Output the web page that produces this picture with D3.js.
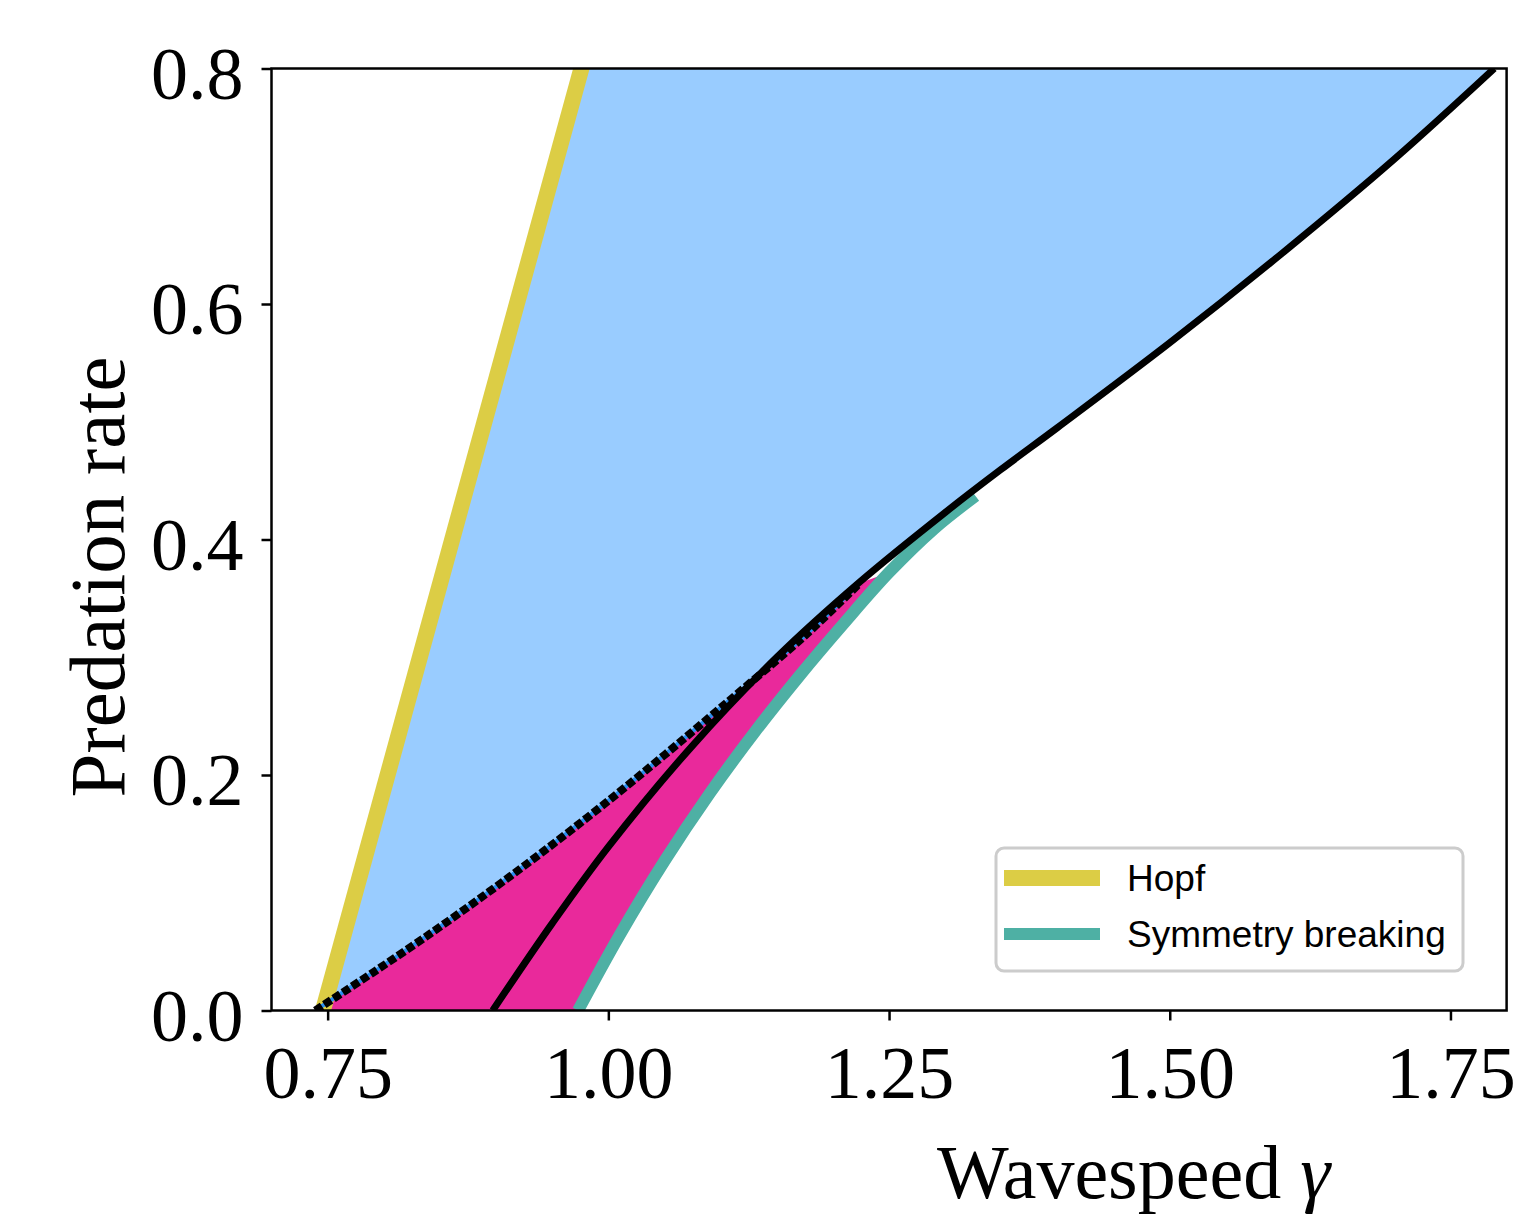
<!DOCTYPE html>
<html>
<head>
<meta charset="utf-8">
<script src="https://cdn.jsdelivr.net/npm/d3@7"></script>
<style>
  body { margin: 0; background: #fff; }
</style>
</head>
<body>
<div id="chart"></div>
<script>
// values
const hopfX = [0.7458, 0.976];
const hopfY = [0.0, 0.8];

// lower branch (dotted), meets the solid curve near 1.224
const foldX = [0.739, 0.790, 0.844, 0.894, 0.942, 0.996, 1.050, 1.090, 1.126, 1.177, 1.224];
const foldY = [0.000, 0.032, 0.067, 0.101, 0.135, 0.175, 0.217, 0.249, 0.278, 0.320, 0.363];

// solid black curve
const solidX = [0.897, 0.950, 1.000, 1.075, 1.150, 1.224, 1.300, 1.349, 1.400, 1.500, 1.600, 1.700, 1.789];
const solidY = [0.000, 0.074, 0.139, 0.225, 0.300, 0.364, 0.423, 0.459, 0.495, 0.567, 0.643, 0.723, 0.800];

// symmetry breaking
const symX = [0.973, 1.010, 1.050, 1.090, 1.130, 1.170, 1.210, 1.250, 1.290, 1.327];
const symY = [0.000, 0.064, 0.127, 0.184, 0.236, 0.284, 0.329, 0.372, 0.409, 0.437];

const xTicks = [0.75, 1.00, 1.25, 1.50, 1.75];
const yTicks = [0.0, 0.2, 0.4, 0.6, 0.8];
const legendLabels = ["Hopf", "Symmetry breaking"];

const width = 1519,
      height = 1214;
const plotL = 271.5, plotR = 1506.6, plotT = 68.5, plotB = 1010.5;

const colBlue = "#99ccff", colPink = "#e9299b", colHopf = "#dccd45",
      colSym = "#4eb0a4", colLine = "#2b8ff0";

const x = d3.scaleLinear().domain([0.7, 1.8]).range([plotL, plotR]);
const y = d3.scaleLinear().domain([0, 0.8]).range([plotB, plotT]);

const zip = (xs, ys) => xs.map((v, i) => [v, ys[i]]);
const hopf = zip(hopfX, hopfY),
      fold = zip(foldX, foldY),
      solid = zip(solidX, solidY),
      sym = zip(symX, symY);

const curved = d3.line().x(d => x(d[0])).y(d => y(d[1])).curve(d3.curveCatmullRom.alpha(0.5));
const straight = d3.line().x(d => x(d[0])).y(d => y(d[1]));
// join several path pieces into one outline
const join = parts => parts.map((p, i) => i ? p.replace(/^M/, "L") : p).join("") + "Z";

var svg = d3.select("#chart").append("svg")
            .attr("width", width)
            .attr("height", height)
            .style("font-family", "'Liberation Serif', serif");

svg.append("defs").append("clipPath")
    .attr("id", "plot-clip")
    .append("rect")
      .attr("x", plotL).attr("y", plotT)
      .attr("width", plotR - plotL).attr("height", plotB - plotT);

var g = svg.append("g").attr("clip-path", "url(#plot-clip)");

// blue region: right of Hopf, above the fold / solid curve
const mergeX = foldX[foldX.length - 1];
const solidUpper = solid.filter(d => d[0] >= mergeX);
const blueOutline = join([
    straight(hopf),
    straight([[solidUpper[solidUpper.length - 1][0], 0.8]]),
    curved(solidUpper.slice().reverse()),
    curved(fold.slice().reverse())
]);
g.append("path").attr("d", blueOutline).attr("fill", colBlue);

// pink region: between the fold and symmetry breaking
const symLower = sym.filter(d => d[1] <= 0.373);
const pinkOutline = join([curved(fold), curved(symLower.slice().reverse())]);
g.append("path").attr("d", pinkOutline).attr("fill", colPink);

// lines
g.append("path").attr("d", straight(hopf))
    .attr("fill", "none").attr("stroke", colHopf)
    .attr("stroke-width", 16).attr("stroke-linecap", "square");

g.append("path").attr("d", curved(sym))
    .attr("fill", "none").attr("stroke", colSym)
    .attr("stroke-width", 12);

g.append("path").attr("d", curved(fold))
    .attr("fill", "none").attr("stroke", colLine)
    .attr("stroke-width", 4);

g.append("path").attr("d", curved(fold))
    .attr("fill", "none").attr("stroke", "#000")
    .attr("stroke-width", 8).attr("stroke-dasharray", "8,3");

g.append("path").attr("d", curved(solid))
    .attr("fill", "none").attr("stroke", "#000")
    .attr("stroke-width", 7);

// axes
const xAxis = svg.append("g")
    .attr("transform", `translate(0,${plotB})`)
    .call(d3.axisBottom(x).tickValues(xTicks).tickFormat(d3.format(".2f"))
            .tickSize(10).tickPadding(25));
const yAxis = svg.append("g")
    .attr("transform", `translate(${plotL},0)`)
    .call(d3.axisLeft(y).tickValues(yTicks).tickFormat(d3.format(".1f"))
            .tickSize(10).tickPadding(18));

[xAxis, yAxis].forEach(a => {
    a.select(".domain").remove();
    a.selectAll(".tick line").attr("stroke", "#000").attr("stroke-width", 2.5);
    a.selectAll(".tick text")
        .attr("fill", "#000")
        .style("font-family", "'Liberation Serif', serif")
        .style("font-size", "74px");
});
yAxis.selectAll(".tick text").attr("dy", "0.40em");

svg.append("rect")
    .attr("x", plotL).attr("y", plotT)
    .attr("width", plotR - plotL).attr("height", plotB - plotT)
    .attr("fill", "none").attr("stroke", "#000").attr("stroke-width", 2.5);

// axis labels
const xLabel = svg.append("text")
    .attr("x", 937).attr("y", 1198)
    .style("font-size", "76px");
xLabel.append("tspan").text("Wavespeed ");
xLabel.append("tspan").attr("font-style", "italic").text("γ");

svg.append("text")
    .attr("transform", "translate(124,577) rotate(-90)")
    .attr("text-anchor", "middle")
    .style("font-size", "79px")
    .text("Predation rate");

// legend
const legend = svg.append("g");
legend.append("rect")
    .attr("x", 996).attr("y", 848).attr("width", 467).attr("height", 123)
    .attr("rx", 8).attr("fill", "#fff")
    .attr("stroke", "#cccccc").attr("stroke-width", 3);

const legendCols = [colHopf, colSym], legendWidths = [16, 12];
legendLabels.forEach((name, i) => {
    const ly = 878 + i * 56;
    legend.append("line")
        .attr("x1", 1004).attr("x2", 1100).attr("y1", ly).attr("y2", ly)
        .attr("stroke", legendCols[i]).attr("stroke-width", legendWidths[i]);
    legend.append("text")
        .attr("x", 1127).attr("y", ly + 13)
        .style("font-family", "'Liberation Sans', sans-serif")
        .style("font-size", "37px")
        .text(name);
});
</script>
</body>
</html>
